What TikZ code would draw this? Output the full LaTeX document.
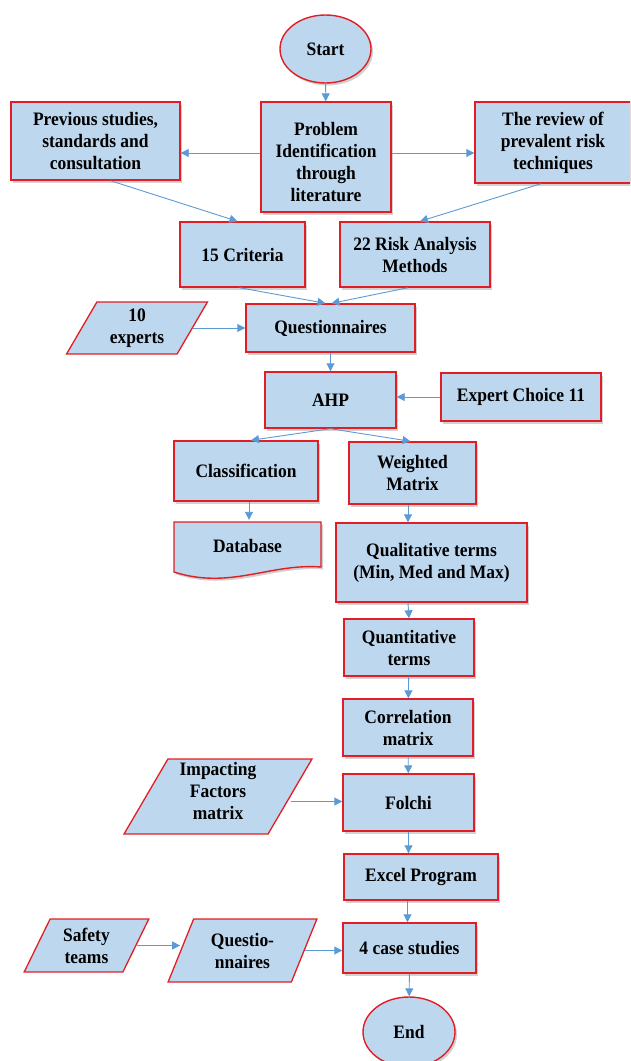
\documentclass[tikz,border=0pt]{standalone}
\usepackage{fontspec}
\setmainfont{Liberation Serif}[FakeStretch=0.92]
\usetikzlibrary{arrows.meta,shapes.geometric,shadows,calc}
\definecolor{boxfill}{RGB}{189,215,238}
\definecolor{boxline}{RGB}{226,30,36}
\definecolor{arrowc}{RGB}{91,155,213}
\begin{document}
\begin{tikzpicture}[x=1pt,y=-1pt,
  every node/.style={font=\fontsize{19}{22}\selectfont\bfseries, align=center, inner sep=0pt},
  shad/.style={drop shadow={shadow xshift=2pt,shadow yshift=-2.5pt,opacity=0.3,fill=black!60}},
  pbox/.style={rectangle, draw=boxline, fill=boxfill, line width=1.4pt, shad},
  term/.style={ellipse, draw=boxline, fill=boxfill, line width=1.4pt, shad},
  para/.style 2 args={trapezium, trapezium left angle=#1, trapezium right angle=#2, trapezium stretches=true, draw=boxline, fill=boxfill, line width=1.3pt},
  arr/.style={draw=arrowc, line width=0.9pt, -{Triangle[length=8pt,width=8pt]}}
]
\useasboundingbox (0,0) rectangle (630,1061);
\clip (0,0) rectangle (630,1061);

\node[term, minimum width=91pt, minimum height=68pt] (start) at (325.5,49) {Start};
\node[pbox, minimum width=130pt, minimum height=110pt] (prob) at (326,157) {\raisebox{-7pt}[\height][\depth]{\begin{tabular}{@{}c@{}}Problem\\Identification\\through\\literature\end{tabular}}};
\node[pbox, minimum width=169pt, minimum height=78pt] (prev) at (95.5,141) {Previous studies,\\standards and\\consultation};
\node[pbox, minimum width=156pt, minimum height=81pt] (rev) at (553,142.5) {The review of\\prevalent risk\\techniques};
\node[pbox, minimum width=125pt, minimum height=65pt] (crit) at (242.5,254.5) {15 Criteria};
\node[pbox, minimum width=150pt, minimum height=65pt] (risk) at (415,254.5) {22 Risk Analysis\\Methods};
\node[pbox, minimum width=169pt, minimum height=48pt] (q) at (330.5,328) {Questionnaires};
\node[para={62}{118}, minimum width=142pt, minimum height=52pt] (ten) at (137,328) {10\\experts};
\node[pbox, minimum width=131pt, minimum height=56pt] (ahp) at (330.5,400) {AHP};
\node[pbox, minimum width=160pt, minimum height=48pt] (ec) at (521,397) {Expert Choice 11};
\node[pbox, minimum width=144pt, minimum height=60pt] (cls) at (246,471) {Classification};
\node[pbox, minimum width=127pt, minimum height=62pt] (wm) at (412.5,473) {Weighted\\Matrix};
\path[draw=boxline, fill=boxfill, line width=1.4pt, shad]
  (174,522) -- (321,522) -- (321,567) .. controls (270,563) and (230,590) .. (174,572) -- cycle;
\node[minimum width=147pt, minimum height=48pt] (db) at (247.5,546) {Database};
\node[pbox, minimum width=191pt, minimum height=79pt] (qt) at (431.5,562.5) {Qualitative terms\\(Min, Med and Max)};
\node[pbox, minimum width=130pt, minimum height=57pt] (quant) at (409,647.5) {Quantitative\\terms};
\node[pbox, minimum width=130pt, minimum height=57pt] (corr) at (408,727.5) {Correlation\\matrix};
\node[pbox, minimum width=131pt, minimum height=57pt] (fol) at (408.5,802.5) {Folchi};
\node[para={63}{117}, minimum width=188pt, minimum height=75pt] (imp) at (218,796.5) {\raisebox{3pt}[\height][\depth]{\begin{tabular}{@{}c@{}}Impacting\\Factors\\matrix\end{tabular}}};
\node[pbox, minimum width=154pt, minimum height=46pt] (exc) at (421,877) {Excel Program};
\node[pbox, minimum width=133pt, minimum height=50pt] (case) at (409.5,948) {4 case studies};
\node[para={65}{115}, minimum width=125pt, minimum height=53pt] (saf) at (86.5,945.5) {Safety\\teams};
\node[para={65}{115}, minimum width=149pt, minimum height=63pt] (qn) at (242.5,950.5) {Questio-\\nnaires};
\node[term, minimum width=92pt, minimum height=70pt] (end) at (409,1032) {End};

\draw[arr] (start) -- (prob);
\draw[arr] ([yshift=4pt]prob.west) -- ([yshift=4pt]prob.west -| prev.east);
\draw[arr] ([yshift=4pt]prob.east) -- ([yshift=4pt]prob.east -| rev.west);
\draw[arr] ([xshift=15pt]prev.south) -- ([xshift=-5pt]crit.north);
\draw[arr] ([xshift=-12pt]rev.south) -- ([xshift=5pt]risk.north);
\draw[arr] ([xshift=-3pt]crit.south) -- ([xshift=-5pt]q.north);
\draw[arr] ([xshift=-7pt]risk.south) -- ([xshift=1pt]q.north);
\draw[arr] (ten.east) -- (ten.east -| q.west);
\draw[arr] (q) -- (ahp);
\draw[arr] (ec.west) -- (ec.west -| ahp.east);
\draw[arr] (ahp.south) -- ([xshift=5pt]cls.north);
\draw[arr] (ahp.south) -- ([xshift=-2pt]wm.north);
\draw[arr] ([xshift=3pt]cls.south) -- ([xshift=3pt,yshift=2pt]cls.south |- db.north);
\draw[arr] ([xshift=-4.5pt]wm.south) -- ([xshift=-4.5pt]wm.south |- qt.north);
\draw[arr] ([xshift=-23.5pt]qt.south) -- (quant.north);
\draw[arr] (quant) -- (corr);
\draw[arr] (corr) -- (fol);
\draw[arr] ([yshift=-5pt]imp.east) -- ([yshift=-5pt]imp.east -| fol.west);
\draw[arr] (fol.south) -- (fol.south |- exc.north);
\draw[arr] ([xshift=-2pt]case.north |- exc.south) -- ([xshift=-2pt]case.north);
\draw[arr] (saf.east) -- (saf.east -| qn.west);
\draw[arr] (qn.east) -- (qn.east -| case.west);
\draw[arr] (case) -- (end);
\end{tikzpicture}
\end{document}
